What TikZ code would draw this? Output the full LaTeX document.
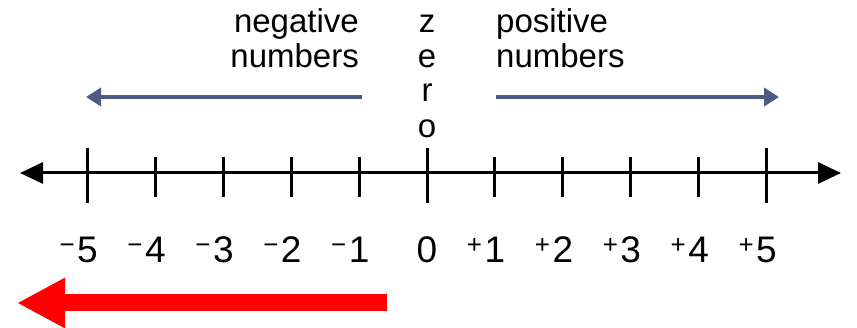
\documentclass[tikz,border=0pt]{standalone}
\usepackage{fontspec}
\setmainfont{Liberation Sans}
\usetikzlibrary{arrows.meta}
\definecolor{arrowblue}{HTML}{4A5C85}
\tikzset{
  numlabel/.style={inner sep=0pt, anchor=base, font=\fontsize{37}{37}\selectfont},
  wordlabel/.style={inner sep=0pt, font=\fontsize{33}{33}\selectfont},
  longtick/.style={line width=3pt},
  shorttick/.style={line width=3pt},
}

\begin{document}
\begin{tikzpicture}[x=1pt, y=-1pt]
    \useasboundingbox (0,0) rectangle (857,328);
    \coordinate (axL) at (20,173);
    \coordinate (axR) at (841,173);
    \draw[line width=3pt, {Triangle[length=23pt,width=21pt]}-{Triangle[length=23pt,width=21pt]}] (axL) -- (axR);
    \foreach \i in {-5,0,5}
        \draw[longtick] ({427+67.9*\i},148) -- ({427+67.9*\i},203);
    \foreach \i in {-4,-3,-2,-1,1,2,3,4}
        \draw[shorttick] ({427+67.9*\i},157) -- ({427+67.9*\i},197);
    \foreach \i in {1,...,5} {
        \node[numlabel] (m\i) at ({427-67.9*\i},263) {\llap{\textsuperscript{\char"2212}\kern2pt}\i};
        \node[numlabel] (p\i) at ({427+67.9*\i},263) {\llap{\textsuperscript{+}\kern2pt}\i};
    }
    \node[numlabel] (z0) at (427,263) {0};
    \node[wordlabel, anchor=base east] (neg1) at (359,33) {negative};
    \node[wordlabel, anchor=base east] (neg2) at (359,68) {numbers};
    \node[wordlabel, anchor=base west] (pos1) at (496,33) {positive};
    \node[wordlabel, anchor=base west] (pos2) at (496,68) {numbers};
    \node[wordlabel, anchor=base] (zr1) at (427,33) {z};
    \node[wordlabel, anchor=base] (zr2) at (427,68) {e};
    \node[wordlabel, anchor=base] (zr3) at (427,102) {r};
    \node[wordlabel, anchor=base] (zr4) at (427,138) {o};
    \coordinate (negS) at (362,97);
    \coordinate (negE) at (86,97);
    \coordinate (posS) at (496,97);
    \coordinate (posE) at (779,97);
    \draw[arrowblue, line width=4pt, -{Triangle[length=15pt,width=18pt]}] (negS) -- (negE);
    \draw[arrowblue, line width=4pt, -{Triangle[length=15pt,width=18pt]}] (posS) -- (posE);
    \coordinate (redS) at (387,303);
    \coordinate (redE) at (17,303);
    \draw[red, line width=17pt, -{Triangle[length=48pt,width=47pt]}] (redS) -- (redE);
\end{tikzpicture}
\end{document}
